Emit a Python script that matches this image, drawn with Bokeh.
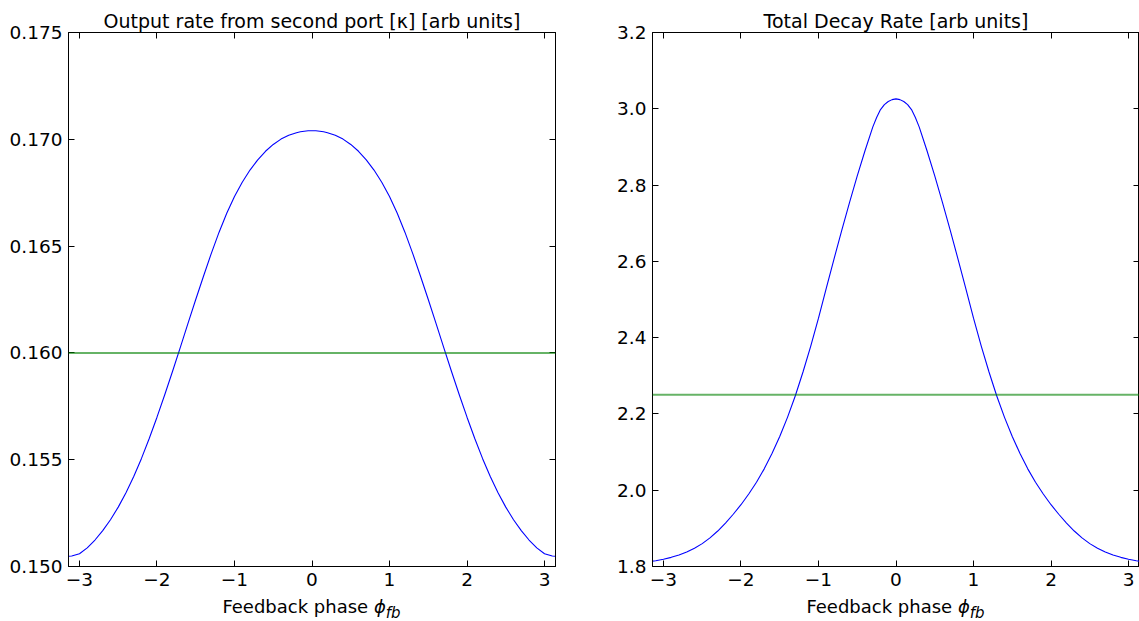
import math
from bokeh.plotting import figure
from bokeh.models import Range1d, LinearAxis, FixedTicker, Span, PrintfTickFormatter, Div
from bokeh.layouts import row, column
from bokeh.embed import file_html
from bokeh.resources import INLINE

# ---- data ----
phase = [-3.1416, -3.1, -3.0, -2.9, -2.8, -2.7, -2.6, -2.5, -2.4, -2.3, -2.2, -2.1,
         -2.0, -1.9, -1.8, -1.7, -1.6, -1.5, -1.4, -1.3, -1.2, -1.1, -1.0, -0.9,
         -0.8, -0.7, -0.6, -0.5, -0.4, -0.3, -0.25, -0.2, -0.15, -0.1, -0.05, 0.0,
         0.05, 0.1, 0.15, 0.2, 0.25, 0.3, 0.4, 0.5, 0.6, 0.7, 0.8, 0.9, 1.0, 1.1, 1.2,
         1.3, 1.4, 1.5, 1.6, 1.7, 1.8, 1.9, 2.0, 2.1, 2.2, 2.3, 2.4, 2.5, 2.6, 2.7,
         2.8, 2.9, 3.0, 3.1, 3.1416]

output_rate = [0.15048, 0.15049, 0.15060, 0.15087, 0.15124, 0.15168, 0.15219, 0.15278,
               0.15345, 0.15421, 0.15506, 0.15599, 0.15699, 0.15804, 0.15913, 0.16025,
               0.16138, 0.16250, 0.16359, 0.16465, 0.16564, 0.16654, 0.16732, 0.16799,
               0.16856, 0.16904, 0.16944, 0.16976, 0.17001, 0.17019, 0.17025, 0.17031,
               0.17035, 0.17038, 0.17040, 0.17040,
               0.17040, 0.17038, 0.17035, 0.17031, 0.17025, 0.17019, 0.17001, 0.16976,
               0.16944, 0.16904, 0.16856, 0.16799, 0.16732, 0.16654, 0.16564, 0.16465,
               0.16359, 0.16250, 0.16138, 0.16025, 0.15913, 0.15804, 0.15699, 0.15599,
               0.15506, 0.15421, 0.15345, 0.15278, 0.15219, 0.15168, 0.15124, 0.15087,
               0.15060, 0.15049, 0.15048]

total_decay = [1.814, 1.815, 1.819, 1.824, 1.830, 1.838, 1.848, 1.860, 1.875, 1.893,
               1.914, 1.937, 1.962, 1.990, 2.021, 2.056, 2.096, 2.141, 2.191, 2.247,
               2.310, 2.378, 2.451, 2.529, 2.606, 2.681, 2.754, 2.824, 2.890, 2.952,
               2.977, 2.998, 3.011, 3.019, 3.024, 3.026,
               3.024, 3.019, 3.011, 2.998, 2.977, 2.952, 2.890, 2.824, 2.754, 2.681,
               2.606, 2.529, 2.451, 2.378, 2.310, 2.247, 2.191, 2.141, 2.096, 2.056,
               2.021, 1.990, 1.962, 1.937, 1.914, 1.893, 1.875, 1.860, 1.848, 1.838,
               1.830, 1.824, 1.819, 1.815, 1.814]

output_threshold = 0.160
decay_threshold = 2.25

x_ticks = [-3, -2, -1, 0, 1, 2, 3]
x_tick_labels = {-3: "\u22123", -2: "\u22122", -1: "\u22121", 0: "0", 1: "1", 2: "2", 3: "3"}
left_y_ticks = [0.150, 0.155, 0.160, 0.165, 0.170, 0.175]
right_y_ticks = [1.8, 2.0, 2.2, 2.4, 2.6, 2.8, 3.0, 3.2]

titles = ["Output rate from second port [\u03ba] [arb units]", "Total Decay Rate [arb units]"]
xlabel_html = "Feedback phase <i>\u03d5</i><sub><i>fb</i></sub>"

FONT = "DejaVu Sans"
FS = "18.5px"


def make(title, y, thr, yr, yticks, fmt, width, mbl, mbr):
    p = figure(width=width, height=596, x_range=Range1d(-math.pi, math.pi),
               y_range=Range1d(*yr), output_backend="svg", toolbar_location=None,
               min_border_left=mbl, min_border_right=mbr, min_border_top=32,
               min_border_bottom=30)
    p.title.text = title
    p.title.align = "center"
    p.title.text_font = FONT
    p.title.text_font_size = "19px"
    p.title.text_font_style = "normal"
    p.title.text_color = "black"
    p.title.standoff = 2
    p.grid.visible = False
    p.outline_line_color = "black"
    p.outline_line_width = 1
    p.background_fill_color = "white"
    p.border_fill_color = "white"

    p.line(phase, y, line_color="#0000ff", line_width=1.1)
    p.add_layout(Span(location=thr, dimension="width", line_color="#008000",
                      line_alpha=0.6, line_width=2))

    for ax in p.xaxis:
        ax.ticker = FixedTicker(ticks=x_ticks)
        ax.major_label_overrides = x_tick_labels
    for ax in p.yaxis:
        ax.ticker = FixedTicker(ticks=yticks)
        ax.formatter = PrintfTickFormatter(format=fmt)

    top = LinearAxis(ticker=FixedTicker(ticks=x_ticks),
                     major_label_overrides={t: "" for t in x_ticks})
    right = LinearAxis(ticker=FixedTicker(ticks=yticks),
                       major_label_overrides={t: "" for t in yticks})
    p.add_layout(top, "above")
    p.add_layout(right, "right")
    for ax in [top, right]:
        ax.major_label_text_font_size = "1px"
        ax.major_label_standoff = 0

    for ax in p.axis:
        ax.major_tick_in = 6
        ax.major_tick_out = 0
        ax.minor_tick_line_color = None
        ax.axis_line_color = "black"
        ax.major_tick_line_color = "black"
        ax.major_label_text_font = FONT
        ax.major_label_text_color = "black"
    p.below[0].major_label_text_font_size = FS
    p.below[0].major_label_standoff = 6
    p.left[0].major_label_text_font_size = FS
    p.left[0].major_label_standoff = 6
    return p


def make_label(mbl):
    return Div(text=xlabel_html, width=487, height=25, margin=(0, 0, 0, mbl),
               styles={"font-family": FONT, "font-size": "18px", "text-align": "center",
                       "color": "black", "line-height": "21px"})


p1 = make(titles[0], output_rate, output_threshold, (0.150, 0.175), left_y_ticks,
          "%.3f", 600, 68, 45)
p2 = make(titles[1], total_decay, decay_threshold, (1.8, 3.2), right_y_ticks,
          "%.1f", 539, 52, 0)

layout = row(column(p1, make_label(68)), column(p2, make_label(52)))
open("out.html", "w").write(file_html(layout, INLINE))
